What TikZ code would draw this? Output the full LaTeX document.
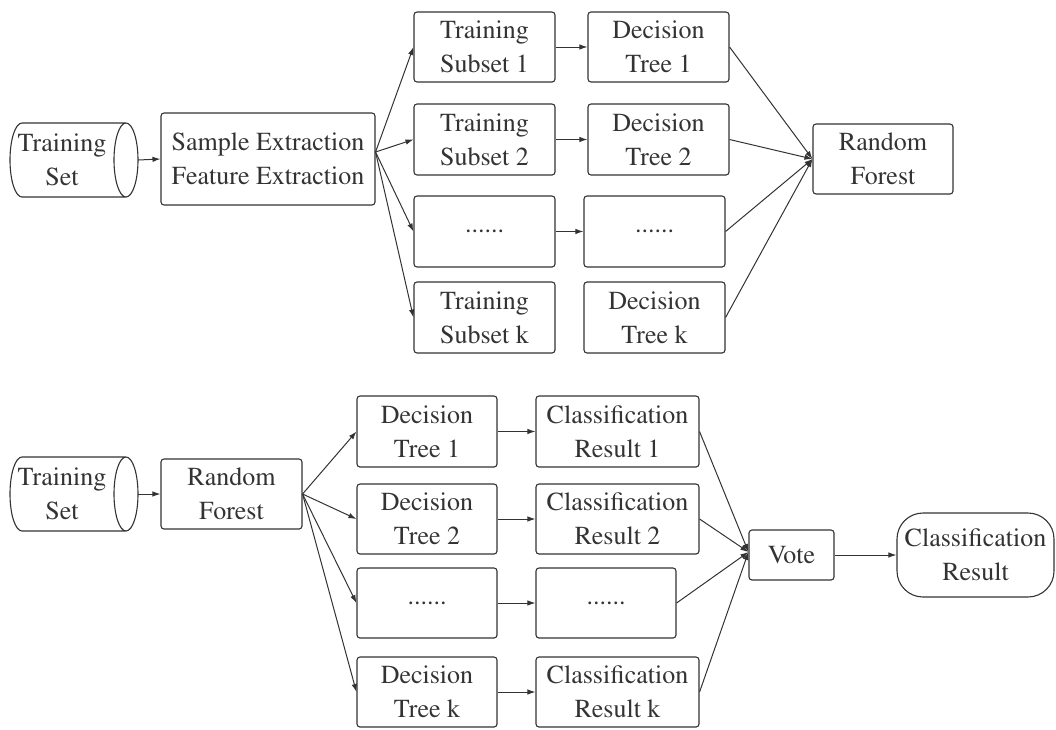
\documentclass[tikz,border=0pt]{standalone}
\usepackage[T1]{fontenc}
\usepackage{times}
\usetikzlibrary{arrows.meta}
\definecolor{ink}{HTML}{333333}
\begin{document}
\begin{tikzpicture}[x=1pt,y=-1pt,
  every node/.style={font=\rmfamily\fontsize{26}{34}\selectfont, text=ink, align=center},
  box/.style={draw=ink, line width=1.1pt, rounded corners=3pt, inner sep=0pt},
  ghost/.style={inner sep=0pt},
  arr/.style={draw=ink, line width=1pt, -{Latex[length=8pt,width=5.5pt]}},
  cyl/.style={draw=ink, line width=1.1pt}
]
\useasboundingbox (0,0) rectangle (1056,729);

% ---------- top ----------
\draw[cyl] (22,123) -- (126,123) (22,197) -- (126,197)
  (22,123) arc[start angle=-90, end angle=-270, x radius=12, y radius=37]
  (126,160) ellipse[x radius=12, y radius=37];
\node[ghost, minimum width=128, minimum height=74] (cyl1) at (74,160) {};
\node[ghost] (cyl1t) at (62,160) {Training\\Set};

\node[box, minimum width=214, minimum height=92] (sfe) at (268,159) {Sample Extraction\\Feature Extraction};

\node[box, minimum width=141, minimum height=70] (ts1) at (484.5,47) {Training\\Subset 1};
\node[box, minimum width=141, minimum height=71] (ts2) at (484.5,139.5) {Training\\Subset 2};
\node[box, minimum width=141, minimum height=71] (tsd) at (484.5,231.5) {......};
\node[box, minimum width=141, minimum height=71] (tsk) at (484.5,317.5) {Training\\Subset k};

\node[box, minimum width=141, minimum height=70] (dt1) at (658.5,47) {Decision\\Tree 1};
\node[box, minimum width=141, minimum height=71] (dt2) at (658.5,139.5) {Decision\\Tree 2};
\node[box, minimum width=141, minimum height=71] (dtd) at (654.5,231.5) {......};
\node[box, minimum width=141, minimum height=71] (dtk) at (654.5,317.5) {Decision\\Tree k};

\node[box, minimum width=140, minimum height=70] (rf1) at (883,159) {Random\\Forest};

\draw[arr] (cyl1.east) -- (sfe.west);
\foreach \t in {ts1,ts2,tsd,tsk}
  \draw[arr] ([yshift=7pt]sfe.east) -- (\t.west);
\draw[arr] (ts1) -- (dt1);
\draw[arr] (ts2) -- (dt2);
\draw[arr] (tsd) -- (dtd);
\foreach \t in {dt1,dt2,dtd,dtk}
  \draw[arr] (\t.east) -- (rf1.west);

% ---------- bottom ----------
\draw[cyl] (22,457) -- (126,457) (22,531) -- (126,531)
  (22,457) arc[start angle=-90, end angle=-270, x radius=12, y radius=37]
  (126,494) ellipse[x radius=12, y radius=37];
\node[ghost, minimum width=128, minimum height=74] (cyl2) at (74,494) {};
\node[ghost] (cyl2t) at (62,494) {Training\\Set};

\node[box, minimum width=141, minimum height=70] (rf2) at (231.5,494) {Random\\Forest};

\node[box, minimum width=140, minimum height=71] (bdt1) at (427,431.5) {Decision\\Tree 1};
\node[box, minimum width=140, minimum height=70] (bdt2) at (427,519) {Decision\\Tree 2};
\node[box, minimum width=140, minimum height=70] (bdtd) at (427,603) {......};
\node[box, minimum width=140, minimum height=70] (bdtk) at (427,692) {Decision\\Tree k};

\node[box, minimum width=163, minimum height=71] (cr1) at (617.5,431.5) {Classification\\Result 1};
\node[box, minimum width=163, minimum height=70] (cr2) at (617.5,519) {Classification\\Result 2};
\node[box, minimum width=140, minimum height=70] (crd) at (606,603) {......};
\node[box, minimum width=163, minimum height=70] (crk) at (617.5,692) {Classification\\Result k};

\node[box, minimum width=85, minimum height=50] (vote) at (791.5,555) {Vote};
\node[box, rounded corners=26pt, minimum width=157, minimum height=84] (res) at (975.5,555) {Classification\\Result};

\draw[arr] (cyl2.east) -- (rf2.west);
\foreach \t in {bdt1,bdt2,bdtd,bdtk}
  \draw[arr] (rf2.east) -- (\t.west);
\draw[arr] (bdt1) -- (cr1);
\draw[arr] (bdt2) -- (cr2);
\draw[arr] (bdtd) -- (crd);
\draw[arr] (bdtk) -- (crk);
\foreach \t in {cr1,cr2,crd,crk}
  \draw[arr] (\t.east) -- ([yshift=3pt]vote.west);
\draw[arr] (vote) -- (res);
\end{tikzpicture}
\end{document}
